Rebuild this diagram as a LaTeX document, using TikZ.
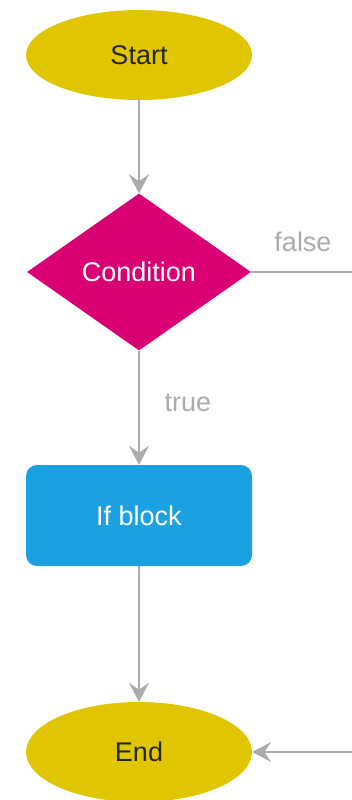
\documentclass[tikz,border=0pt]{standalone}
\usepackage{fontspec}
\setmainfont{Liberation Sans}
\usetikzlibrary{shapes.geometric,arrows.meta}
\definecolor{termfill}{HTML}{E0C600}
\definecolor{condfill}{HTML}{D80073}
\definecolor{blockfill}{HTML}{1BA1E2}
\definecolor{linegray}{HTML}{ABABAB}
\tikzset{
  terminal/.style={ellipse, fill=termfill, minimum width=226pt, minimum height=90pt,
    inner sep=0pt, text=black!85, font=\fontsize{27}{31}\selectfont},
  decision/.style={diamond, fill=condfill, minimum width=224pt, minimum height=157pt,
    inner sep=0pt, text=white, font=\fontsize{27}{31}\selectfont},
  process/.style={rectangle, rounded corners=11pt, fill=blockfill, minimum width=226pt,
    minimum height=101pt, inner sep=0pt, text=white, font=\fontsize{27}{31}\selectfont},
  flow/.style={draw=linegray, line width=2.4pt,
    -{Stealth[length=19pt, width=20pt, inset=7pt, fill=linegray]}},
  plain/.style={draw=linegray, line width=2.4pt},
  edgelabel/.style={text=linegray, font=\fontsize{27}{31}\selectfont, inner sep=0pt}
}
\begin{document}
\begin{tikzpicture}[x=1pt, y=-1pt]
  \useasboundingbox (0,0) rectangle (352,800);
  \node[terminal] (start) at (139,55) {Start};
  \node[decision] (cond) at (139,272) {Condition};
  \node[process] (ifblk) at (139,515.5) {If block};
  \node[terminal, minimum height=100pt] (end) at (139,752) {End};
  \coordinate (falseout) at (360,272);
  \coordinate (falsein) at (360,752);
  \draw[flow] (start) -- (cond);
  \draw[flow] (cond) -- (ifblk);
  \draw[flow] (ifblk) -- (end);
  \draw[plain] (cond.east) -- (falseout);
  \draw[flow] (falsein) -- (end.east);
  \node[edgelabel] (lblfalse) at (303,242) {false};
  \node[edgelabel] (lbltrue) at (188,403) {true};
\end{tikzpicture}
\end{document}
